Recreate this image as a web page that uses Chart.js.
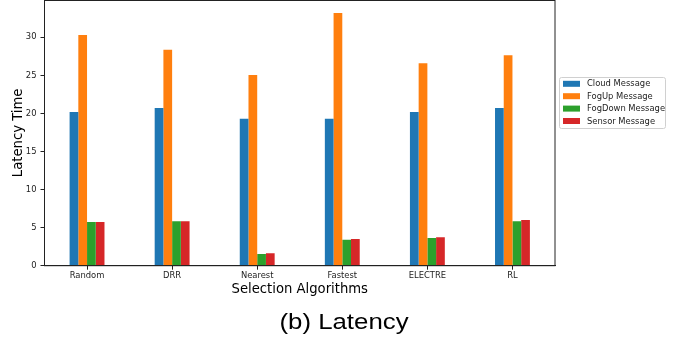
<!DOCTYPE html>
<html>
<head>
<meta charset="utf-8">
<script src="https://cdn.jsdelivr.net/npm/chart.js@4"></script>
<style>
  html, body { margin: 0; padding: 0; background: #fff; }
  #wrap { width: 677px; height: 344px; position: relative; }
</style>
</head>
<body>
<div id="wrap"><canvas id="c" width="677" height="344"></canvas></div>
<script>
// Selection algorithms compared
const algorithms = ['Random', 'DRR', 'Nearest', 'Fastest', 'ELECTRE', 'RL'];

// Average latency per message type
const cloudMessage   = [20.2, 20.7, 19.3, 19.3, 20.2, 20.7];
const fogUpMessage   = [30.3, 28.35, 25.05, 33.2, 26.6, 27.65];
const fogDownMessage = [5.75, 5.85, 1.55, 3.4, 3.65, 5.85];
const sensorMessage  = [5.75, 5.85, 1.65, 3.5, 3.75, 6.0];

const seriesLabels = ['Cloud Message', 'FogUp Message', 'FogDown Message', 'Sensor Message'];
const seriesColors = ['#1f77b4', '#ff7f0e', '#2ca02c', '#d62728'];

const yTicks = [0, 5, 10, 15, 20, 25, 30];
const yMax = 34.9;

const INK = '#222';
const FONT = 'DejaVu Sans';

// Box around the plotting area
const framePlugin = {
  id: 'frame',
  afterDatasetsDraw(chart) {
    const { ctx, chartArea: a } = chart;
    ctx.save();
    ctx.strokeStyle = INK;
    ctx.lineWidth = 1;
    ctx.strokeRect(a.left, a.top + 0.5, a.right - a.left, a.bottom - a.top - 0.5);
    ctx.restore();
  }
};

// Boxed legend to the right of the plot
const sideLegendPlugin = {
  id: 'sideLegend',
  afterDraw(chart) {
    const { ctx } = chart;
    const x0 = 559.5, y0 = 77.5, w = 106, h = 51;
    ctx.save();
    ctx.fillStyle = 'rgba(255,255,255,0.8)';
    ctx.strokeStyle = '#d0d0d0';
    ctx.lineWidth = 1;
    ctx.beginPath();
    ctx.roundRect(x0, y0, w, h, 2);
    ctx.fill();
    ctx.stroke();
    ctx.font = '8.4px "' + FONT + '"';
    ctx.textBaseline = 'middle';
    ctx.textAlign = 'left';
    chart.data.datasets.forEach((ds, i) => {
      const cy = y0 + 6.3 + i * 12.4;
      ctx.fillStyle = ds.backgroundColor;
      ctx.fillRect(563, cy - 3, 17, 6);
      ctx.fillStyle = INK;
      ctx.fillText(ds.label, 587, cy + 0.5);
    });
    ctx.restore();
  }
};

// Figure caption under the axes
const captionPlugin = {
  id: 'caption',
  afterDraw(chart) {
    const { ctx } = chart;
    ctx.save();
    ctx.translate(344, 328.5);
    ctx.scale(1.2, 1);
    ctx.font = '21.5px "Liberation Sans"';
    ctx.fillStyle = '#000';
    ctx.textAlign = 'center';
    ctx.textBaseline = 'alphabetic';
    ctx.fillText('(b) Latency', 0, 0);
    ctx.restore();
  }
};

const datasets = [cloudMessage, fogUpMessage, fogDownMessage, sensorMessage].map((vals, i) => ({
  label: seriesLabels[i],
  data: vals,
  backgroundColor: seriesColors[i],
  borderWidth: 0,
  categoryPercentage: 0.41,
  barPercentage: 1.0
}));

new Chart(document.getElementById('c'), {
  type: 'bar',
  data: { labels: algorithms, datasets },
  options: {
    responsive: false,
    animation: false,
    events: [],
    layout: { padding: { top: 0, right: 122, bottom: 0, left: 0 } },
    plugins: {
      legend: { display: false },
      tooltip: { enabled: false },
      title: { display: false }
    },
    scales: {
      x: {
        afterFit(scale) {
          scale.height = 78.3;
          scale.paddingLeft = 0;
          scale.paddingRight = 0;
        },
        grid: { offset: false, drawOnChartArea: false, drawTicks: true, tickLength: 4, color: INK, lineWidth: 1 },
        border: { display: true, color: INK, width: 1 },
        ticks: { color: INK, font: { family: FONT, size: 8.4 }, padding: 1.5, maxRotation: 0 },
        title: {
          display: true,
          text: 'Selection Algorithms',
          color: '#000',
          font: { family: FONT, size: 13.2 },
          padding: { top: 0, bottom: 46.8 }
        }
      },
      y: {
        min: 0,
        max: yMax,
        afterFit(scale) {
          scale.width = 44.5;
          scale.paddingTop = 0;
          scale.paddingBottom = 0;
        },
        afterBuildTicks(scale) { scale.ticks = yTicks.map(v => ({ value: v })); },
        grid: { drawOnChartArea: false, drawTicks: true, tickLength: 4, color: INK, lineWidth: 1 },
        border: { display: true, color: INK, width: 1 },
        ticks: { color: INK, font: { family: FONT, size: 8.4 }, padding: 4 },
        title: {
          display: true,
          text: 'Latency Time',
          color: '#000',
          font: { family: FONT, size: 13.2 },
          padding: { top: 11, bottom: 0 }
        }
      }
    }
  },
  plugins: [framePlugin, sideLegendPlugin, captionPlugin]
});
</script>
</body>
</html>
